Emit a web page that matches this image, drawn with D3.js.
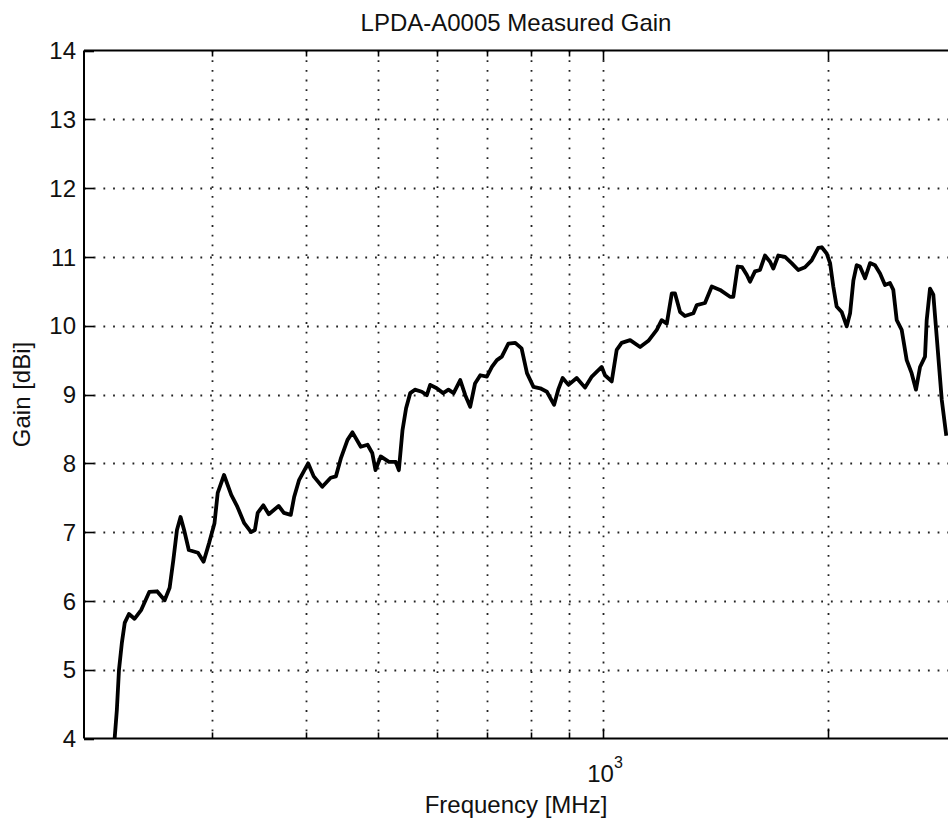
<!DOCTYPE html>
<html>
<head>
<meta charset="utf-8">
<script src="https://cdn.jsdelivr.net/npm/d3@7"></script>
<style>
  html, body { margin: 0; padding: 0; background: #fff; }
  svg { display: block; }
  text { font-family: "Liberation Sans", Arial, Helvetica, sans-serif; fill: #111; }
</style>
</head>
<body>
<svg id="chart" width="948" height="821"></svg>
<script>
const titleText = "LPDA-A0005 Measured Gain";
const xLabelText = "Frequency [MHz]";
const yLabelText = "Gain [dBi]";

const freq = [222,223.5,225,227,229,232,236,241,247,253,
  259,263,266,269,272,275,279,287,292,297,
  302,305,311,318,324,331,338,342,345,351,
  357,368,374,382,386,392,403,410,421,432,
  439,446,455,462,474,484,491,496,504,517,
  528,533,539,545,552,560,572,581,587,599,
  611,621,631,644,654,664,674,685,699,710,
  721,732,747,763,778,791,807,824,841,860,
  871,883,899,922,946,966,996,1006,1027,1043,
  1059,1087,1121,1150,1180,1198,1217,1236,1248,1268,
  1287,1321,1335,1369,1398,1434,1479,1494,1514,1535,
  1557,1573,1597,1622,1647,1673,1690,1716,1752,1788,
  1825,1863,1902,1941,1962,1992,2013,2033,2054,2086,
  2119,2141,2163,2185,2207,2242,2277,2312,2348,2384,
  2421,2446,2472,2510,2549,2588,2623,2656,2697,2711,
  2739,2767,2796,2840,2880];

const gain = [4.0,4.41,5.0,5.39,5.68,5.81,5.74,5.87,6.13,6.14,
  6.01,6.19,6.59,7.03,7.22,7.03,6.74,6.70,6.57,6.84,
  7.13,7.57,7.83,7.54,7.37,7.13,7.00,7.03,7.28,7.39,
  7.26,7.38,7.28,7.25,7.51,7.76,8.00,7.81,7.66,7.79,
  7.81,8.08,8.34,8.45,8.24,8.27,8.15,7.90,8.10,8.02,
  8.02,7.90,8.48,8.80,9.02,9.07,9.04,8.99,9.14,9.09,
  9.02,9.07,9.02,9.21,8.99,8.82,9.16,9.28,9.26,9.40,
  9.50,9.55,9.74,9.75,9.67,9.31,9.11,9.09,9.04,8.85,
  9.07,9.24,9.14,9.24,9.10,9.26,9.40,9.28,9.19,9.65,
  9.75,9.79,9.69,9.78,9.94,10.08,10.03,10.47,10.47,10.20,
  10.14,10.18,10.30,10.33,10.57,10.52,10.42,10.42,10.86,10.85,
  10.74,10.64,10.79,10.81,11.02,10.93,10.83,11.02,11.00,10.91,
  10.81,10.85,10.95,11.13,11.14,11.05,10.91,10.57,10.28,10.20,
  9.99,10.18,10.66,10.88,10.86,10.69,10.91,10.88,10.76,10.59,
  10.62,10.52,10.08,9.94,9.50,9.31,9.07,9.40,9.55,10.08,
  10.54,10.45,9.84,8.92,8.40];

const xDomain = [202, 2895];
const yDomain = [4, 14];
const xGridTicks = [300,400,500,600,700,800,900,1000,2000];
const xMajorTicks = [1000];
const yTicks = [4,5,6,7,8,9,10,11,12,13,14];

const pLeft = 84, pRight = 948, pTop = 50.5, pBottom = 738.5;
const svg = d3.select("#chart");

const x = d3.scaleLog().domain(xDomain).range([pLeft, pRight]);
const y = d3.scaleLinear().domain(yDomain).range([pBottom, pTop]);

// clip
svg.append("defs").append("clipPath").attr("id","plotclip")
  .append("rect").attr("x", pLeft).attr("y", pTop).attr("width", pRight-pLeft).attr("height", pBottom-pTop);

// grid
const grid = svg.append("g").attr("stroke", "#222").attr("stroke-width", 1.8).attr("stroke-dasharray", "1.8 7.9");
grid.selectAll("line.vg").data(xGridTicks).join("line")
  .attr("x1", d => Math.round(x(d)) + 0.5).attr("x2", d => Math.round(x(d)) + 0.5)
  .attr("y1", pTop).attr("y2", pBottom);
grid.selectAll("line.hg").data(yTicks.filter(d => d > 4 && d < 14)).join("line")
  .attr("y1", d => Math.round(y(d)) + 0.5).attr("y2", d => Math.round(y(d)) + 0.5)
  .attr("x1", pLeft).attr("x2", pRight);

// ticks (inward)
const ticks = svg.append("g").attr("stroke", "#000").attr("stroke-width", 1.6);
const tickLen = d => (xMajorTicks.includes(d) || d === 2000 ? 10 : 6);
ticks.selectAll("line.bt").data(xGridTicks).join("line")
  .attr("x1", d => Math.round(x(d)) + 0.5).attr("x2", d => Math.round(x(d)) + 0.5)
  .attr("y1", pBottom).attr("y2", d => pBottom - tickLen(d));
ticks.selectAll("line.tt").data(xGridTicks).join("line")
  .attr("x1", d => Math.round(x(d)) + 0.5).attr("x2", d => Math.round(x(d)) + 0.5)
  .attr("y1", pTop).attr("y2", d => pTop + tickLen(d));
ticks.selectAll("line.lt").data(yTicks).join("line")
  .attr("x1", pLeft).attr("x2", pLeft + 10)
  .attr("y1", d => Math.round(y(d)) + 0.5).attr("y2", d => Math.round(y(d)) + 0.5);

// axes frame
svg.append("line").attr("x1", pLeft).attr("x2", pLeft).attr("y1", pTop).attr("y2", pBottom)
  .attr("stroke", "#000").attr("stroke-width", 2);
svg.append("line").attr("x1", pLeft).attr("x2", pRight + 2).attr("y1", pTop).attr("y2", pTop)
  .attr("stroke", "#000").attr("stroke-width", 2);
svg.append("line").attr("x1", pLeft).attr("x2", pRight + 2).attr("y1", pBottom).attr("y2", pBottom)
  .attr("stroke", "#000").attr("stroke-width", 2);

// data line
const pts = freq.map((f, i) => [f, gain[i]]);
const line = d3.line().x(d => x(d[0])).y(d => y(d[1]));
svg.append("path").datum(pts)
  .attr("clip-path", "url(#plotclip)")
  .attr("fill", "none").attr("stroke", "#000").attr("stroke-width", 3.8)
  .attr("stroke-linejoin", "round").attr("stroke-linecap", "butt")
  .attr("d", line);

// y tick labels
svg.append("g").selectAll("text").data(yTicks).join("text")
  .attr("x", pLeft - 8).attr("y", d => y(d)).attr("dy", "0.36em")
  .attr("text-anchor", "end").attr("font-size", 24)
  .text(d => d);

// x tick label 10^3
xMajorTicks.forEach(v => {
  const t = svg.append("text").attr("x", x(v) + 2).attr("y", 782)
    .attr("text-anchor", "middle").attr("font-size", 24);
  t.append("tspan").text("10");
  t.append("tspan").attr("font-size", 16).attr("dy", -14).text(Math.round(Math.log10(v)));
});

// labels
svg.append("text").attr("x", (pLeft + pRight) / 2).attr("y", 813)
  .attr("text-anchor", "middle").attr("font-size", 24).text(xLabelText);
svg.append("text").attr("x", (pLeft + pRight) / 2).attr("y", 31)
  .attr("text-anchor", "middle").attr("font-size", 24).text(titleText);
svg.append("text").attr("transform", `translate(30, ${(pTop + pBottom) / 2}) rotate(-90)`)
  .attr("text-anchor", "middle").attr("font-size", 24).text(yLabelText);
</script>
</body>
</html>
